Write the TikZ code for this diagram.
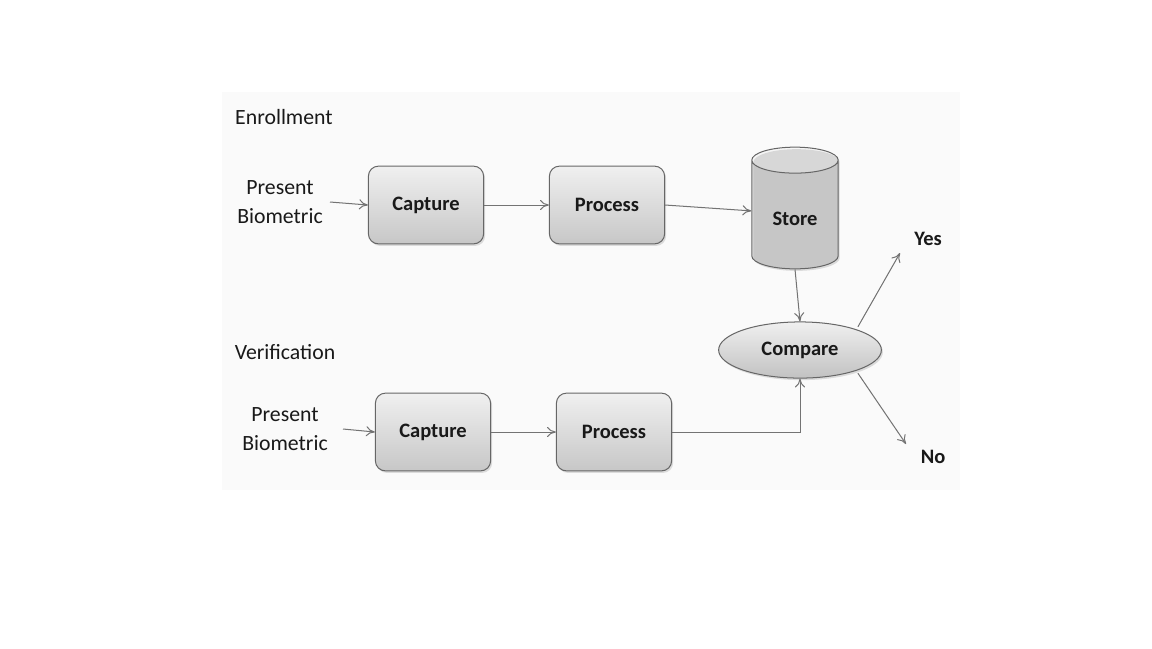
\documentclass[tikz,border=0pt]{standalone}
\usepackage{fontspec}
\setmainfont{Carlito}
\usetikzlibrary{arrows.meta,shapes.geometric,shadows}
\tikzset{
  stepbox/.style={draw=black!60, rounded corners=0.14cm, minimum width=1.6cm,
    minimum height=1.08cm, top color=black!6, bottom color=black!22,
    drop shadow={opacity=0.25, shadow xshift=0.6pt, shadow yshift=-0.8pt}},
  storebox/.style={cylinder, shape border rotate=90, draw=black!60, aspect=0.42,
    minimum width=1.2cm, minimum height=1.69cm, cylinder uses custom fill,
    cylinder body fill=black!13, cylinder end fill=black!4, anchor=shape center,
    drop shadow={opacity=0.25, shadow xshift=0.6pt, shadow yshift=-0.8pt}},
  comparebox/.style={ellipse, draw=black!60, minimum width=2.26cm,
    minimum height=0.78cm, top color=black!6, bottom color=black!24,
    drop shadow={opacity=0.25, shadow xshift=0.6pt, shadow yshift=-0.8pt}},
  lbl/.style={align=center, text=black!90},
  boxlbl/.style={lbl, font=\fontsize{8.1}{11}\selectfont\bfseries}
}
\begin{document}
\begin{tikzpicture}[x=0.0138889cm, y=-0.0138889cm, font=\fontsize{8.6}{11.5}\selectfont,
    >={To[length=3.5pt,width=4pt]}]
  \useasboundingbox (0,0) rectangle (1152,648);
  \fill[black!2] (222,92) rectangle (960,490);
  \node[lbl] (enroll) at (284,117) {Enrollment};
  \node[lbl] (verify) at (285,352) {Verification};
  \node[lbl] (pb1) at (280,202) {Present\\Biometric};
  \node[lbl] (pb2) at (285,429) {Present\\Biometric};
  \node[stepbox, boxlbl] (cap1) at (426,205) {Capture};
  \node[stepbox, boxlbl] (proc1) at (607,205) {Process};
  \node[storebox, boxlbl] (store) at (795,208) {Store};
  \node[stepbox, boxlbl] (cap2) at (433,432) {Capture};
  \node[stepbox, boxlbl] (proc2) at (614,432) {Process};
  \node[comparebox, boxlbl] (cmp) at (800,350) {Compare};
  \node[boxlbl] (yes) at (928,239) {Yes};
  \node[boxlbl] (no) at (933,457) {No};
  \coordinate (in1) at (330,202);
  \coordinate (in2) at (343,429);
  \coordinate (yesend) at (900,253);
  \coordinate (noend) at (906,444);
  \begin{scope}[->, draw=black!55, thin]
    \draw (in1) to (cap1.west);
    \draw (cap1) to (proc1);
    \draw (proc1.east) to (store.170);
    \draw (store.bottom) to (cmp.north);
    \draw (in2) to (cap2.west);
    \draw (cap2) to (proc2);
    \draw (proc2.east) -| (cmp.south);
    \draw (cmp.north east) ++(0,-3) to (yesend);
    \draw (cmp.south east) ++(0,3) to (noend);
  \end{scope}
\end{tikzpicture}
\end{document}
